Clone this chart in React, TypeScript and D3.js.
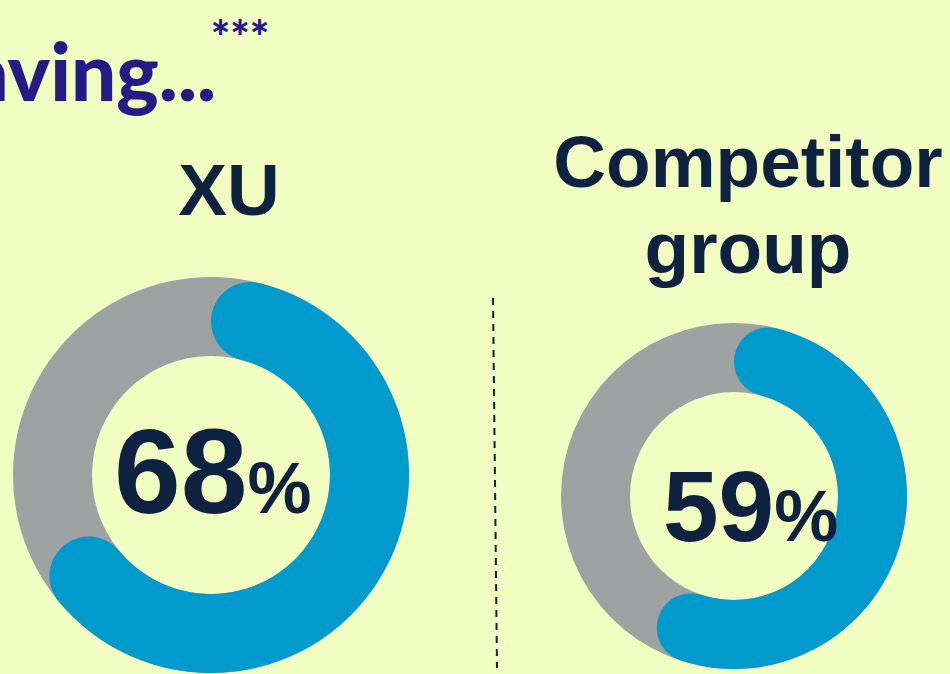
import React, { useEffect, useRef } from 'react';
import * as d3 from 'd3';

// values
const groups = ['XU', 'Competitor group'];
const shares = [68, 59];
const labelLines = [['XU'], ['Competitor', 'group']];
const titleText = 'aving...';
const titleMark = '***';

const W = 950;
const H = 674;
const BG = '#f1fdc1';
const BLUE = '#009bcc';
const GREY = '#9fa2a2';
const NAVY = '#0e2240';
const PURPLE = '#261b86';

// per-donut layout (centre, radii, number sizes, label placement)
const layout = [
  { cx: 211, cy: 475, r0: 119, r1: 198, numSize: 120, numDx: -97, numDy: 38, labelX: 229, labelY: 215 },
  { cx: 734, cy: 496, r0: 104, r1: 173, numSize: 100, numDx: -71, numDy: 45, labelX: 748, labelY: 187 },
];

export default function App() {
  const svgRef = useRef<SVGSVGElement>(null);

  useEffect(() => {
    if (!svgRef.current) return;
    const svg = d3.select(svgRef.current);
    svg.selectAll('*').remove();

    svg.append('rect').attr('width', W).attr('height', H).attr('fill', BG);

    // title, cut off at the left edge
    svg.append('text')
      .attr('x', 216)
      .attr('y', 101)
      .attr('text-anchor', 'end')
      .style('font-family', 'Lato, "Open Sans", sans-serif')
      .style('font-weight', 900)
      .style('font-size', '80px')
      .attr('fill', PURPLE)
      .text(titleText);

    svg.append('text')
      .attr('x', 240)
      .attr('y', 54)
      .attr('text-anchor', 'middle')
      .style('font-family', 'Lato, "Open Sans", sans-serif')
      .style('font-weight', 900)
      .style('font-size', '46px')
      .attr('fill', PURPLE)
      .text(titleMark);

    // dashed divider
    svg.append('line')
      .attr('x1', 493).attr('y1', 298)
      .attr('x2', 497).attr('y2', 668)
      .attr('stroke', NAVY)
      .attr('stroke-width', 2)
      .attr('stroke-dasharray', '7 6');

    const share = d3.scaleLinear().domain([0, 100]).range([0, 2 * Math.PI]);

    groups.forEach((name, i) => {
      const L = layout[i];
      const g = svg.append('g').attr('transform', `translate(${L.cx},${L.cy})`);

      const ring = d3.arc<any>()
        .innerRadius(L.r0)
        .outerRadius(L.r1);

      g.append('path')
        .attr('d', ring({ startAngle: 0, endAngle: 2 * Math.PI }) as string)
        .attr('fill', GREY);

      const bar = d3.arc<any>()
        .innerRadius(L.r0)
        .outerRadius(L.r1)
        .cornerRadius((L.r1 - L.r0) / 2);

      g.append('path')
        .attr('d', bar({ startAngle: 0, endAngle: share(shares[i]) }) as string)
        .attr('fill', BLUE);

      const num = g.append('text')
        .attr('x', L.numDx)
        .attr('y', L.numDy)
        .attr('fill', NAVY)
        .style('font-family', '"Liberation Sans", Arial, sans-serif')
        .style('font-weight', 700);
      num.append('tspan').style('font-size', `${L.numSize}px`).text(String(shares[i]));
      num.append('tspan').style('font-size', '72px').text('%');

      const lbl = svg.append('text')
        .attr('text-anchor', 'middle')
        .attr('fill', NAVY)
        .style('font-family', '"Liberation Sans", Arial, sans-serif')
        .style('font-weight', 700)
        .style('font-size', '73px');
      labelLines[i].forEach((line, j) => {
        lbl.append('tspan')
          .attr('x', L.labelX)
          .attr('y', L.labelY + j * 86)
          .text(line);
      });
    });
  }, []);

  return (
    <div style={{ position: 'absolute', left: 0, top: 0, width: W, height: H, overflow: 'hidden' }}>
      <svg ref={svgRef} width={W} height={H} style={{ display: 'block' }} />
    </div>
  );
}
